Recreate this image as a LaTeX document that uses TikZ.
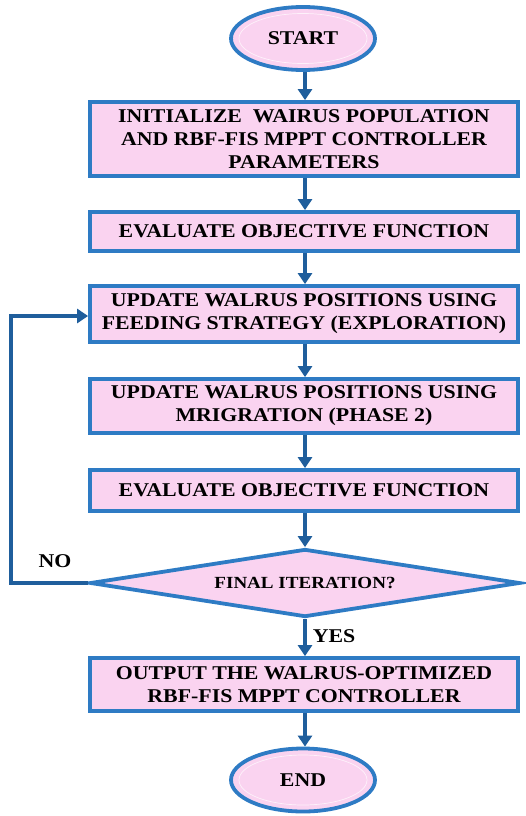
\documentclass[tikz,border=0pt]{standalone}
\usepackage{fontspec}
\setmainfont{Liberation Serif}[FakeStretch=1.12]
\usetikzlibrary{shapes.geometric,arrows.meta}
\definecolor{boxfill}{HTML}{FAD3F0}
\definecolor{boxline}{HTML}{2E7BC4}
\definecolor{arrline}{HTML}{1F5E9C}
\tikzset{
  base/.style={draw=boxline, fill=boxfill, line width=3.8pt, inner sep=0pt,
    align=center, font=\bfseries\fontsize{19.5}{23}\selectfont},
  procbox/.style={base, rectangle, minimum width=428pt},
  termin/.style={base, ellipse, minimum width=144pt, minimum height=63pt},
  decis/.style={base, diamond, aspect=6, minimum width=430pt, minimum height=68pt,
    font=\bfseries\fontsize{17}{20}\selectfont},
  flow/.style={draw=arrline, line width=3.2pt, -{Triangle[width=14pt,length=11pt]}},
  lbl/.style={font=\bfseries\fontsize{19.5}{22}\selectfont, inner sep=0pt}
}
\begin{document}
\begin{tikzpicture}[x=1pt,y=-1pt]
\useasboundingbox (0,0) rectangle (526,816);
\node[termin] (start) at (303,38.5) {START};
\node[procbox, minimum height=74pt] (b1) at (304,139) {INITIALIZE\ \ WAIRUS POPULATION\\AND RBF-FIS MPPT CONTROLLER\\PARAMETERS};
\node[procbox, minimum height=39pt] (b2) at (304,231.5) {EVALUATE OBJECTIVE FUNCTION};
\node[procbox, minimum height=56pt] (b3) at (304,314) {UPDATE WALRUS POSITIONS USING\\FEEDING STRATEGY (EXPLORATION)};
\node[procbox, minimum height=54pt] (b4) at (304,406) {UPDATE WALRUS POSITIONS USING\\MRIGRATION (PHASE 2)};
\node[procbox, minimum height=41pt] (b5) at (304,490.5) {EVALUATE OBJECTIVE FUNCTION};
\node[decis] (dec) at (305,583) {FINAL ITERATION?};
\node[procbox, minimum height=53pt] (b6) at (304,684.5) {OUTPUT THE WALRUS-OPTIMIZED\\RBF-FIS MPPT CONTROLLER};
\node[termin] (end) at (303,780) {END};
\draw[white, line width=0.7pt, opacity=0.7] (start.center) ellipse (64 and 25);
\draw[white, line width=0.7pt, opacity=0.7] (end.center) ellipse (64 and 25);
\coordinate (loopc) at (11,583);
\draw[flow] (305,72) -- (b1.north -| 305,0);
\draw[flow] (b1.south -| 305,0) -- (b2.north -| 305,0);
\draw[flow] (b2.south -| 305,0) -- (b3.north -| 305,0);
\draw[flow] (b3.south -| 305,0) -- (b4.north -| 305,0);
\draw[flow] (b4.south -| 305,0) -- (b5.north -| 305,0);
\draw[flow] (b5.south -| 305,0) -- (dec.north);
\draw[flow] (dec.south) -- (b6.north -| 305,0);
\draw[flow] (b6.south -| 305,0) -- (end.north -| 305,0);
\draw[flow] (dec.west) -- (loopc) |- ([yshift=-2pt]b3.west);
\node[lbl] (no) at (55,561.5) {NO};
\node[lbl] (yes) at (334,636.5) {YES};
\end{tikzpicture}
\end{document}
